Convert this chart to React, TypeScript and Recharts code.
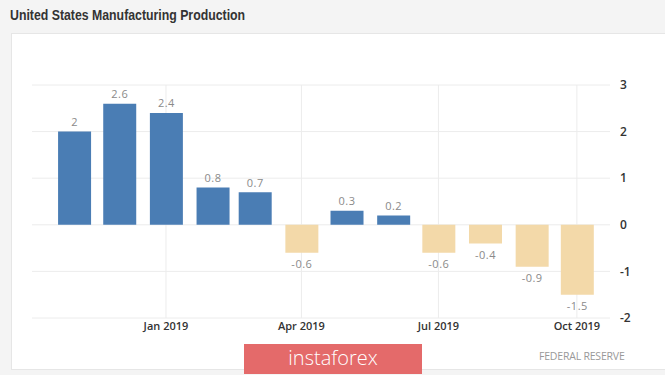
import React from 'react';
import { BarChart, Bar, XAxis, YAxis, CartesianGrid, Cell, LabelList } from 'recharts';

const months = ['2018-11', '2018-12', '2019-01', '2019-02', '2019-03', '2019-04', '2019-05', '2019-06', '2019-07', '2019-08', '2019-09', '2019-10'];
const values = [2, 2.6, 2.4, 0.8, 0.7, -0.6, 0.3, 0.2, -0.6, -0.4, -0.9, -1.5];
const tickMonths = ['2019-01', '2019-04', '2019-07', '2019-10'];
const tickLabels = ['Jan 2019', 'Apr 2019', 'Jul 2019', 'Oct 2019'];
const yTicks = [-2, -1, 0, 1, 2, 3];

const dayOf = (m: string) => {
    const [y, mo] = m.split('-').map(Number);
    return Date.UTC(y, mo - 1, 1) / 86400000;
};

const data = months.map((m, i) => ({ day: dayOf(m), value: values[i] }));
const xTicks = tickMonths.map(dayOf);
const labelFor = (d: number) => tickLabels[xTicks.indexOf(d)] ?? '';

const BLUE = '#4a7db4';
const BEIGE = '#f3d9a9';

const START = dayOf('2019-01') - 89;
const END = dayOf('2019-01') + 295;

const ValueLabel = (props: any) => {
    const { x, y, width, height, value } = props;
    const top = Math.min(y, y + height);
    const bottom = Math.max(y, y + height);
    const cy = value >= 0 ? top - 10 : bottom + 11;
    return (
        <text x={x + width / 2} y={cy} textAnchor="middle" dominantBaseline="central"
            fill="#8a8a8a" fontSize={11} fontFamily="'Open Sans', sans-serif" letterSpacing={0.5}>
            {value}
        </text>
    );
};

// vertical grid only at the labelled ticks
const verticalLines = ({ xAxis, offset }: any) =>
    xTicks.map(t =>
        xAxis && typeof xAxis.scale === 'function'
            ? xAxis.scale(t)
            : offset.left + ((t - START) / (END - START)) * offset.width
    );

export default function App() {
    return (
        <div style={{ position: 'fixed', top: 0, left: 0, width: 665, height: 375, background: '#f4f4f4', overflow: 'hidden', fontFamily: "'Liberation Sans', Arial, sans-serif" }}>
            <div style={{ position: 'absolute', left: 10, top: 6, fontSize: 15, fontWeight: 700, color: '#333', whiteSpace: 'nowrap', transform: 'scaleX(0.82)', transformOrigin: 'left center' }}>
                United States Manufacturing Production
            </div>
            <div style={{ position: 'absolute', left: 11, top: 33, width: 660, height: 337, background: '#fff', border: '1px solid #e6e6e6', boxSizing: 'border-box' }} />
            <div style={{ position: 'absolute', left: 0, top: 0 }}>
                <BarChart width={665} height={375} data={data} margin={{ top: 85, right: 10, left: 32, bottom: 37 }}>
                    <CartesianGrid stroke="#ececec" strokeWidth={1} verticalCoordinatesGenerator={verticalLines} />
                    <XAxis dataKey="day" type="number" domain={[START, END]} ticks={xTicks} tickFormatter={labelFor}
                        height={20} axisLine={false} tickLine={false} tickSize={0} tickMargin={4}
                        tick={{ fill: '#333', fontSize: 11, fontWeight: 600, fontFamily: "'Open Sans', sans-serif" }} />
                    <YAxis orientation="right" domain={[-2, 3]} ticks={yTicks} width={45} axisLine={false} tickLine={false}
                        tickSize={0} tickMargin={10}
                        tick={{ fill: '#333', fontSize: 12, fontWeight: 600, fontFamily: "'Open Sans', sans-serif", textAnchor: 'start' }} />
                    <Bar dataKey="value" barSize={33} isAnimationActive={false}>
                        {data.map((d, i) => (
                            <Cell key={`c-${i}`} fill={d.value >= 0 ? BLUE : BEIGE} />
                        ))}
                        <LabelList dataKey="value" content={ValueLabel} />
                    </Bar>
                </BarChart>
            </div>
            <div style={{ position: 'absolute', left: 244, top: 344, width: 178, height: 30, background: '#e46a6a', color: '#fff', fontFamily: "'Open Sans', sans-serif", fontSize: 20, fontWeight: 300, textAlign: 'center', lineHeight: '28px' }}>
                instaforex
            </div>
            <div style={{ position: 'absolute', left: 539, top: 349, fontSize: 10.5, color: '#999', letterSpacing: -0.2, fontFamily: "'Open Sans', sans-serif" }}>
                FEDERAL RESERVE
            </div>
        </div>
    );
}
